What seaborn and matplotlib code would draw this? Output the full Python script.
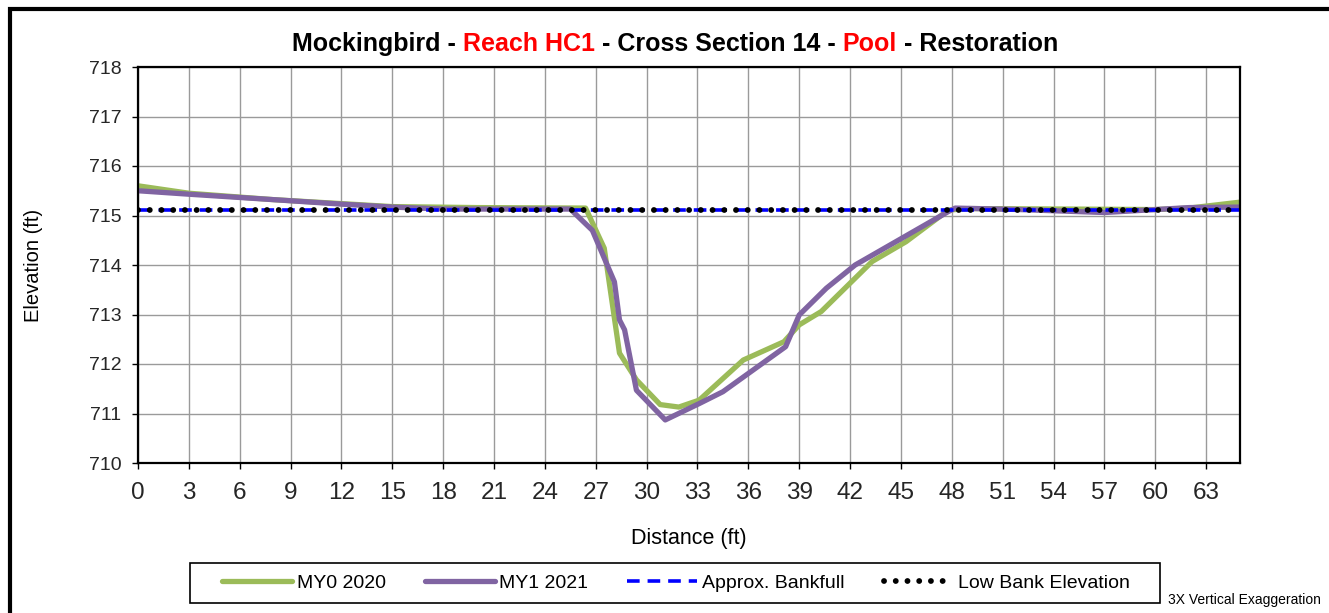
import matplotlib
matplotlib.use("Agg")
import matplotlib.pyplot as plt
import seaborn as sns

# --- dados ---
my0_x = [0, 3, 8, 15, 20, 26.4, 27.5, 28.4, 29.4, 30.8, 31.9, 33.1, 35.7, 38.1, 39.0, 40.3,
         43.3, 45.3, 47.8, 49, 55, 60, 62, 65]
my0_y = [715.60, 715.45, 715.32, 715.18, 715.16, 715.15, 714.34, 712.22, 711.68, 711.18, 711.13,
         711.27, 712.08, 712.45, 712.79, 713.06, 714.07, 714.47, 715.11, 715.14, 715.13, 715.12,
         715.15, 715.27]

my1_x = [0, 3, 8, 12, 15, 18, 25.5, 26.8, 28.1, 28.4, 28.7, 29.4, 31.1, 33.1, 34.5, 38.2, 39.0,
         40.6, 42.3, 47.8, 48.2, 52, 57, 60, 62, 65]
my1_y = [715.50, 715.43, 715.32, 715.23, 715.17, 715.13, 715.13, 714.70, 713.66, 712.89, 712.69,
         711.47, 710.87, 711.20, 711.44, 712.35, 712.99, 713.53, 714.00, 715.08, 715.15, 715.12,
         715.06, 715.12, 715.16, 715.17]

bankfull_x = [0, 65]
bankfull_y = [715.12, 715.12]
lowbank_x = [0, 65]
lowbank_y = [715.12, 715.12]

x_ticks = list(range(0, 64, 3))
y_ticks = list(range(710, 719))

title_pieces = [("Mockingbird - ", "black"), ("Reach HC1", "red"),
                (" - Cross Section 14 - ", "black"), ("Pool", "red"),
                (" - Restoration", "black")]

sns.set_theme(style="white")
plt.rcParams['font.family'] = ['Liberation Sans', 'DejaVu Sans']

W, H = 1329, 613
fig = plt.figure(figsize=(W / 100, H / 100), dpi=100)
ax = fig.add_axes([138 / W, 1 - 463 / H, (1240 - 138) / W, (463 - 67) / H])

sns.lineplot(x=my0_x, y=my0_y, ax=ax, color='#9BBB59', lw=3.8, label='MY0 2020',
             sort=False, estimator=None)
sns.lineplot(x=my1_x, y=my1_y, ax=ax, color='#8064A2', lw=3.8, label='MY1 2021',
             sort=False, estimator=None)
sns.lineplot(x=bankfull_x, y=bankfull_y, ax=ax, color='#0000FF', lw=2.6,
             label='Approx. Bankfull', estimator=None)
sns.lineplot(x=lowbank_x, y=lowbank_y, ax=ax, color='black', lw=4.2,
             label='Low Bank Elevation', estimator=None)

lines = ax.get_lines()
lines[2].set_dashes((3.5, 2.2))
lines[3].set_dashes((0.01, 2.0))
lines[3].set_dash_capstyle('round')

ax.set_xlim(0, 65)
ax.set_ylim(710, 718)
ax.set_xticks(x_ticks)
ax.set_yticks(y_ticks)
ax.grid(True, color='#9a9a9a', lw=1.0)
for s in ax.spines.values():
    s.set_color('black')
    s.set_linewidth(1.6)
ax.tick_params(axis='both', direction='out', length=4, width=1, color='black',
               left=True, bottom=True)
ax.tick_params(axis='x', pad=10, labelsize=17.5)
ax.tick_params(axis='y', pad=8, labelsize=14)

ax.set_xlabel('Distance (ft)', fontsize=15.5, color='black')
ax.set_ylabel('Elevation (ft)', fontsize=14.5, color='black')
ax.xaxis.set_label_coords(0.5, -0.165)
ax.yaxis.set_label_coords(-0.086, 0.5)

ax.get_legend().remove()
handles, labels = ax.get_legend_handles_labels()
leg = fig.legend(handles, labels, loc='center', ncol=4,
                 bbox_to_anchor=(676 / W, 1 - 583 / H),
                 fontsize=14, handlelength=3.6, frameon=False,
                 borderaxespad=0, handletextpad=0.25, columnspacing=2.0)
for t in leg.get_texts():
    t.set_color('black')
# caixa da legenda
fig.add_artist(plt.Rectangle((190 / W, 1 - 603 / H), 970 / W, 40 / H, transform=fig.transFigure,
                             fill=False, lw=1.2, ec='black'))

# titulo com partes em vermelho
renderer = fig.canvas.get_renderer()
full = "".join(p for p, c in title_pieces)
probe = fig.text(0, 0, full, fontsize=18, weight='bold')
total_w = probe.get_window_extent(renderer).width
probe.remove()
x0 = 675 - total_w / 2
prefix = ""
for piece, col in title_pieces:
    if prefix:
        t1 = fig.text(0, 0, prefix + "|", fontsize=18, weight='bold')
        t2 = fig.text(0, 0, "|", fontsize=18, weight='bold')
        off = t1.get_window_extent(renderer).width - t2.get_window_extent(renderer).width
        t1.remove()
        t2.remove()
    else:
        off = 0
    fig.text((x0 + off) / W, 1 - 44 / H, piece, color=col, fontsize=18, weight='bold',
             ha='left', va='center')
    prefix += piece

fig.text(1168 / W, 1 - 600 / H, '3X Vertical Exaggeration', fontsize=10, ha='left',
         va='center', color='black')

# moldura externa
fig.add_artist(plt.Rectangle((9.5 / W, -0.5), 2, 1 - 9 / H + 0.5, transform=fig.transFigure,
                             fill=False, lw=3, ec='black'))

fig.savefig('out.png', dpi=100)
